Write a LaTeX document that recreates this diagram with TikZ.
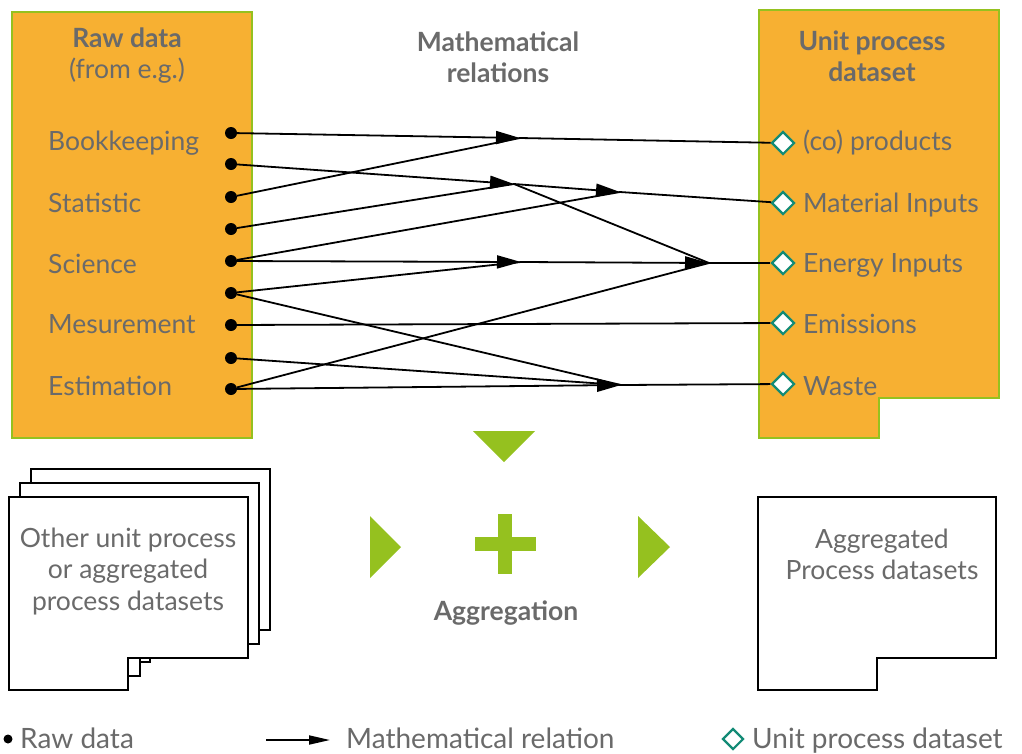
\documentclass[tikz,border=0pt]{standalone}
\usepackage{fontspec}
\setmainfont{Lato}
\usetikzlibrary{arrows.meta,shapes.geometric}
\definecolor{orng}{HTML}{F7B032}
\definecolor{lgreen}{HTML}{95C11F}
\definecolor{txtgray}{HTML}{6A6A6A}
\definecolor{dteal}{HTML}{138B76}
\begin{document}
\begin{tikzpicture}[x=1pt,y=-1pt,
  lbl/.style={text=txtgray, font=\fontsize{26.5}{30}\selectfont, inner sep=0pt},
  ttl/.style={text=txtgray, font=\fontsize{26.5}{30}\selectfont\bfseries, inner sep=0pt},
  leg/.style={text=txtgray, font=\fontsize{28}{32}\selectfont, inner sep=0pt},
  dot/.style={circle, fill=black, minimum size=12pt, inner sep=0pt},
  dia/.style={diamond, draw=dteal, fill=white, line width=2.2pt, minimum size=23pt, inner sep=0pt},
  rel/.style={line width=1.8pt, black},
  arr/.style={rel, -{Triangle[length=24pt,width=13pt]}},
  box/.style={draw=lgreen, line width=2.5pt, fill=orng},
  sheet/.style={draw=black, line width=2pt, fill=white},
  gshape/.style={fill=lgreen, draw=none}]
\useasboundingbox (0,0) rectangle (1022,753);

% orange boxes
\path[box] (12,12) rectangle (252,438);
\path[box] (759,10) -- (999,10) -- (999,398) -- (879,398) -- (879,438) -- (759,438) -- cycle;

% titles
\node[ttl, anchor=base] (t1a) at (127,47) {Raw data};
\node[lbl, anchor=base] (t1b) at (127,78) {(from e.g.)};
\node[ttl, anchor=base] (t2a) at (498,51) {Mathematical};
\node[ttl, anchor=base] (t2b) at (498,82) {relations};
\node[ttl, anchor=base] (t3a) at (872,50) {Unit process};
\node[ttl, anchor=base] (t3b) at (872,81) {dataset};

% left labels
\node[lbl, anchor=base west] (l1) at (48,150) {Bookkeeping};
\node[lbl, anchor=base west] (l2) at (48,212) {Statistic};
\node[lbl, anchor=base west] (l3) at (48,273) {Science};
\node[lbl, anchor=base west] (l4) at (48,333) {Mesurement};
\node[lbl, anchor=base west] (l5) at (48,395) {Estimation};

% right labels
\node[lbl, anchor=base west] (r1) at (803,150) {(co) products};
\node[lbl, anchor=base west] (r2) at (803,212) {Material Inputs};
\node[lbl, anchor=base west] (r3) at (803,272) {Energy Inputs};
\node[lbl, anchor=base west] (r4) at (803,333) {Emissions};
\node[lbl, anchor=base west] (r5) at (803,395) {Waste};

% hubs
\coordinate (h1) at (520,138);
\coordinate (h2) at (514,184);
\coordinate (h3) at (620,192);
\coordinate (h4) at (521,262);
\coordinate (h5) at (709,263);
\coordinate (h6) at (621,385);

% dots
\node[dot] (d1) at (231,133) {};
\node[dot] (d2) at (231,164) {};
\node[dot] (d3) at (231,197) {};
\node[dot] (d4) at (231,229) {};
\node[dot] (d5) at (231,261) {};
\node[dot] (d6) at (231,293) {};
\node[dot] (d7) at (231,325) {};
\node[dot] (d8) at (231,358) {};
\node[dot] (d9) at (231,389) {};

% diamonds
\node[dia] (p1) at (783,143) {};
\node[dia] (p2) at (783,203) {};
\node[dia] (p3) at (783,263) {};
\node[dia] (p4) at (783,323) {};
\node[dia] (p5) at (783,384) {};

% relations
\draw[rel] (d3) -- (h1);
\draw[arr] (d1) -- (h1);
\draw[rel] (h1) -- (p1);
\draw[rel] (d4) -- (h2);
\draw[arr] (d2) -- (h2);
\draw[rel] (d5) -- (h3);
\draw[arr] (h2) -- (h3);
\draw[rel] (h3) -- (p2);
\draw[rel] (d6) -- (h4);
\draw[arr] (d5) -- (h4);
\draw[rel] (h2) -- (h5);
\draw[rel] (d9) -- (h5);
\draw[arr] (h4) -- (h5);
\draw[rel] (h5) -- (p3);
\draw[rel] (d7) -- (p4);
\draw[rel] (d6) -- (h6);
\draw[rel] (d8) -- (h6);
\draw[arr] (d9) -- (h6);
\draw[rel] (h6) -- (p5);

% aggregation symbols
\path[gshape] (473,431) -- (535,431) -- (504,462) -- cycle;
\path[gshape] (370,516) -- (401,547) -- (370,578) -- cycle;
\path[gshape] (638,516) -- (670,547) -- (638,578) -- cycle;
\path[gshape] (498,514) rectangle (512,574);
\path[gshape] (475,537) rectangle (536,551);
\node[ttl, anchor=base] (agg) at (506,620) {Aggregation};

% stack of datasets
\path[sheet] (31,469) -- (270,469) -- (270,630) -- (150,630) -- (150,662) -- (31,662) -- cycle;
\path[sheet] (20,483) -- (259,483) -- (259,644) -- (140,644) -- (140,676) -- (20,676) -- cycle;
\path[sheet] (9,497) -- (248,497) -- (248,658) -- (128,658) -- (128,690) -- (9,690) -- cycle;
\node[lbl, anchor=base] (o1) at (128,547) {Other unit process};
\node[lbl, anchor=base] (o2) at (128,578) {or aggregated};
\node[lbl, anchor=base] (o3) at (128,610) {process datasets};

% aggregated dataset
\path[sheet] (758,497) -- (996,497) -- (996,658) -- (877,658) -- (877,690) -- (758,690) -- cycle;
\node[lbl, anchor=base] (a1) at (882,548) {Aggregated};
\node[lbl, anchor=base] (a2) at (882,579) {Process datasets};

% legend
\node[circle, fill=black, minimum size=9pt, inner sep=0pt] (lgdot) at (8,739) {};
\node[leg, anchor=base west] (lg1) at (20,748) {Raw data};
\coordinate (la1) at (266,740);
\coordinate (la2) at (330,740);
\draw[rel, -{Triangle[length=21pt,width=9pt]}] (la1) -- (la2);
\node[leg, anchor=base west] (lg2) at (346,748) {Mathematical relation};
\node[dia, minimum size=21pt] (lgdia) at (733,739) {};
\node[leg, anchor=base west] (lg3) at (752,748) {Unit process dataset};
\end{tikzpicture}
\end{document}
